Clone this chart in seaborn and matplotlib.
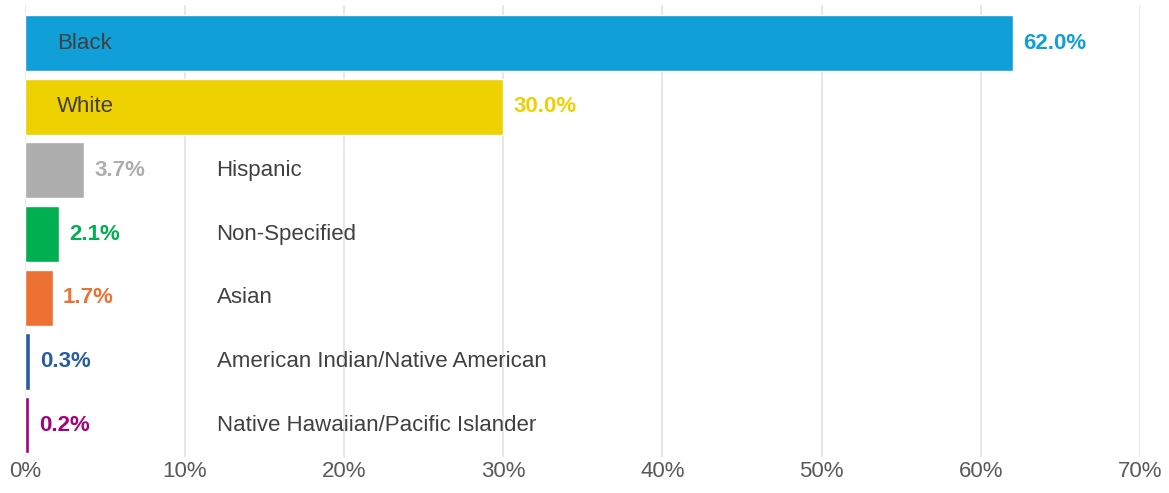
import matplotlib
matplotlib.use("Agg")
import matplotlib.pyplot as plt
import seaborn as sns
import pandas as pd
from matplotlib.ticker import FuncFormatter

categories = ["Black", "White", "Hispanic", "Non-Specified", "Asian",
              "American Indian/Native American", "Native Hawaiian/Pacific Islander"]
shares = [62.0, 30.0, 3.7, 2.1, 1.7, 0.3, 0.2]
colors = ["#119FD7", "#EDD100", "#AEAEAE", "#00B050", "#ED7132", "#2A5CA0", "#A3007E"]
inside_label = [True, True, False, False, False, False, False]

df = pd.DataFrame({"category": categories, "share": shares})

sns.set_style("white")
plt.rcParams["font.family"] = ["Liberation Sans", "DejaVu Sans"]

fig = plt.figure(figsize=(11.69, 4.93), dpi=100)
ax = fig.add_axes([0.0218, 0.073, 0.9534, 0.917])

sns.barplot(data=df, y="category", x="share", hue="category",
            palette=colors, order=categories, hue_order=categories,
            dodge=False, legend=False, width=0.88, orient="h",
            saturation=1, ax=ax)

ax.set_xlim(0, 70)
ax.set_ylim(6.5, -0.6)
ax.set_xticks(range(0, 71, 10))
ax.xaxis.set_major_formatter(FuncFormatter(lambda v, _: f"{v:.0f}%"))
ax.tick_params(axis="x", length=0, labelsize=16, labelcolor="#595959", pad=3)
ax.set_yticks([])
ax.set_xlabel("")
ax.set_ylabel("")
ax.grid(axis="x", color="#E3E3E3", linewidth=1.2)
ax.set_axisbelow(True)
for s in ax.spines.values():
    s.set_visible(False)

for i, (cat, val, col, inside) in enumerate(zip(categories, shares, colors, inside_label)):
    ax.text(val + 0.65, i, f"{val:.1f}%", color=col, fontsize=16,
            fontweight="bold", va="center", ha="left")
    ax.text(2.0 if inside else 12.0, i, cat, color="#404040", fontsize=16,
            va="center", ha="left")

fig.savefig("out.png", dpi=100)
